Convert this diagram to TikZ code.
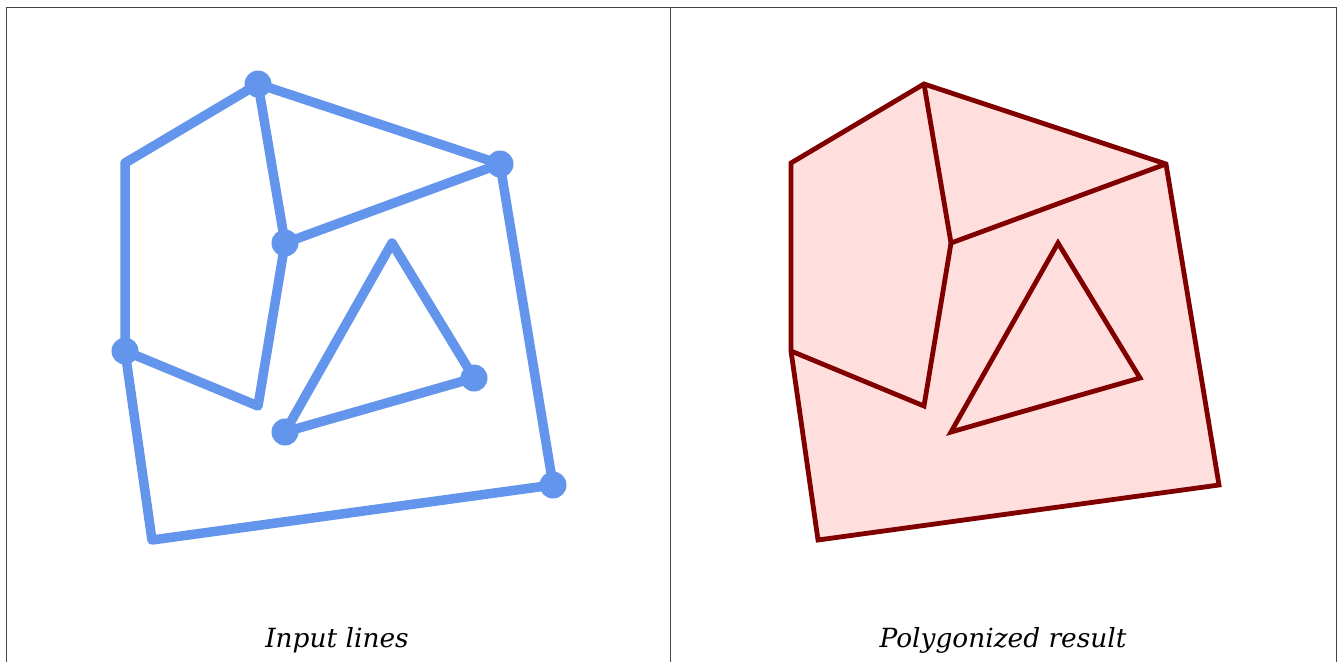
\documentclass[tikz,border=0pt]{standalone}
\usepackage{fontspec}
\setmainfont{DejaVu Serif}
\usetikzlibrary{positioning, calc, backgrounds}
\definecolor{lineblue}{RGB}{100, 149, 237}
\definecolor{polyred}{RGB}{128, 0, 0}
\definecolor{polyfill}{RGB}{255, 222, 222}
\definecolor{framegray}{RGB}{70, 70, 70}
\tikzset{
  panelframe/.style={draw=framegray, line width=1pt},
  inlines/.style={draw=lineblue, line width=9.5pt, line join=round, line cap=round},
  vtx/.style={circle, fill=lineblue, inner sep=0pt, minimum size=27pt},
  ring/.style={draw=polyred, line width=4.8pt, line join=miter},
  polyarea/.style={fill=polyfill},
  title/.style={font=\itshape\fontsize{26.4}{30}\selectfont, anchor=base},
}

\begin{document}
\begin{tikzpicture}[x=1pt, y=-1pt]
  \useasboundingbox (0,0) rectangle (1343,662);

  % vertices, once per panel (l = input, r = result)
  \foreach \p/\dx in {l/0, r/666} {
    \coordinate (\p A) at (258+\dx, 84);
    \coordinate (\p B) at (125+\dx, 163);
    \coordinate (\p C) at (125+\dx, 351);
    \coordinate (\p D) at (152+\dx, 540);
    \coordinate (\p E) at (553+\dx, 485);
    \coordinate (\p F) at (500+\dx, 164);
    \coordinate (\p G) at (285+\dx, 243);
    \coordinate (\p H) at (258+\dx, 406);
    \coordinate (\p T1) at (392+\dx, 243);
    \coordinate (\p T2) at (474+\dx, 378);
    \coordinate (\p T3) at (285+\dx, 432);
  }

  % ===================== frames ==========================================
  \coordinate (frTL) at (6, 7);
  \coordinate (frTR) at (1336, 7);
  \coordinate (frBL) at (6, 662);
  \coordinate (frBR) at (1336, 662);
  \coordinate (frMT) at (670, 7);
  \coordinate (frMB) at (670, 662);
  \draw[panelframe] (frBL) -- (frTL) -- (frTR) -- (frBR);
  \draw[panelframe] (frMT) -- (frMB);

  % ===================== PANEL (left): input lines =======================
  \draw[inlines] (lA) -- (lB) -- (lC) -- (lD) -- (lE) -- (lF) -- cycle;
  \draw[inlines] (lA) -- (lG) -- (lF);
  \draw[inlines] (lG) -- (lH) -- (lC);
  \draw[inlines] (lT1) -- (lT2) -- (lT3) -- cycle;
  \foreach \v in {A, F, G, C, T2, T3, E}
    \node[vtx] (dot\v) at (l\v) {};
  \node[title] (inTitle) at (337, 647) {Input lines};

  % ===================== PANEL (right): polygonized result ===============
  \fill[polyarea] (rA) -- (rB) -- (rC) -- (rD) -- (rE) -- (rF) -- cycle;
  \draw[ring] (rA) -- (rB) -- (rC) -- (rD) -- (rE) -- (rF) -- cycle;
  \draw[ring] (rA) -- (rG) -- (rF);
  \draw[ring] (rG) -- (rH) -- (rC);
  \draw[ring] (rT1) -- (rT2) -- (rT3) -- cycle;
  \node[title] (outTitle) at (1003, 647) {Polygonized result};
\end{tikzpicture}
\end{document}
